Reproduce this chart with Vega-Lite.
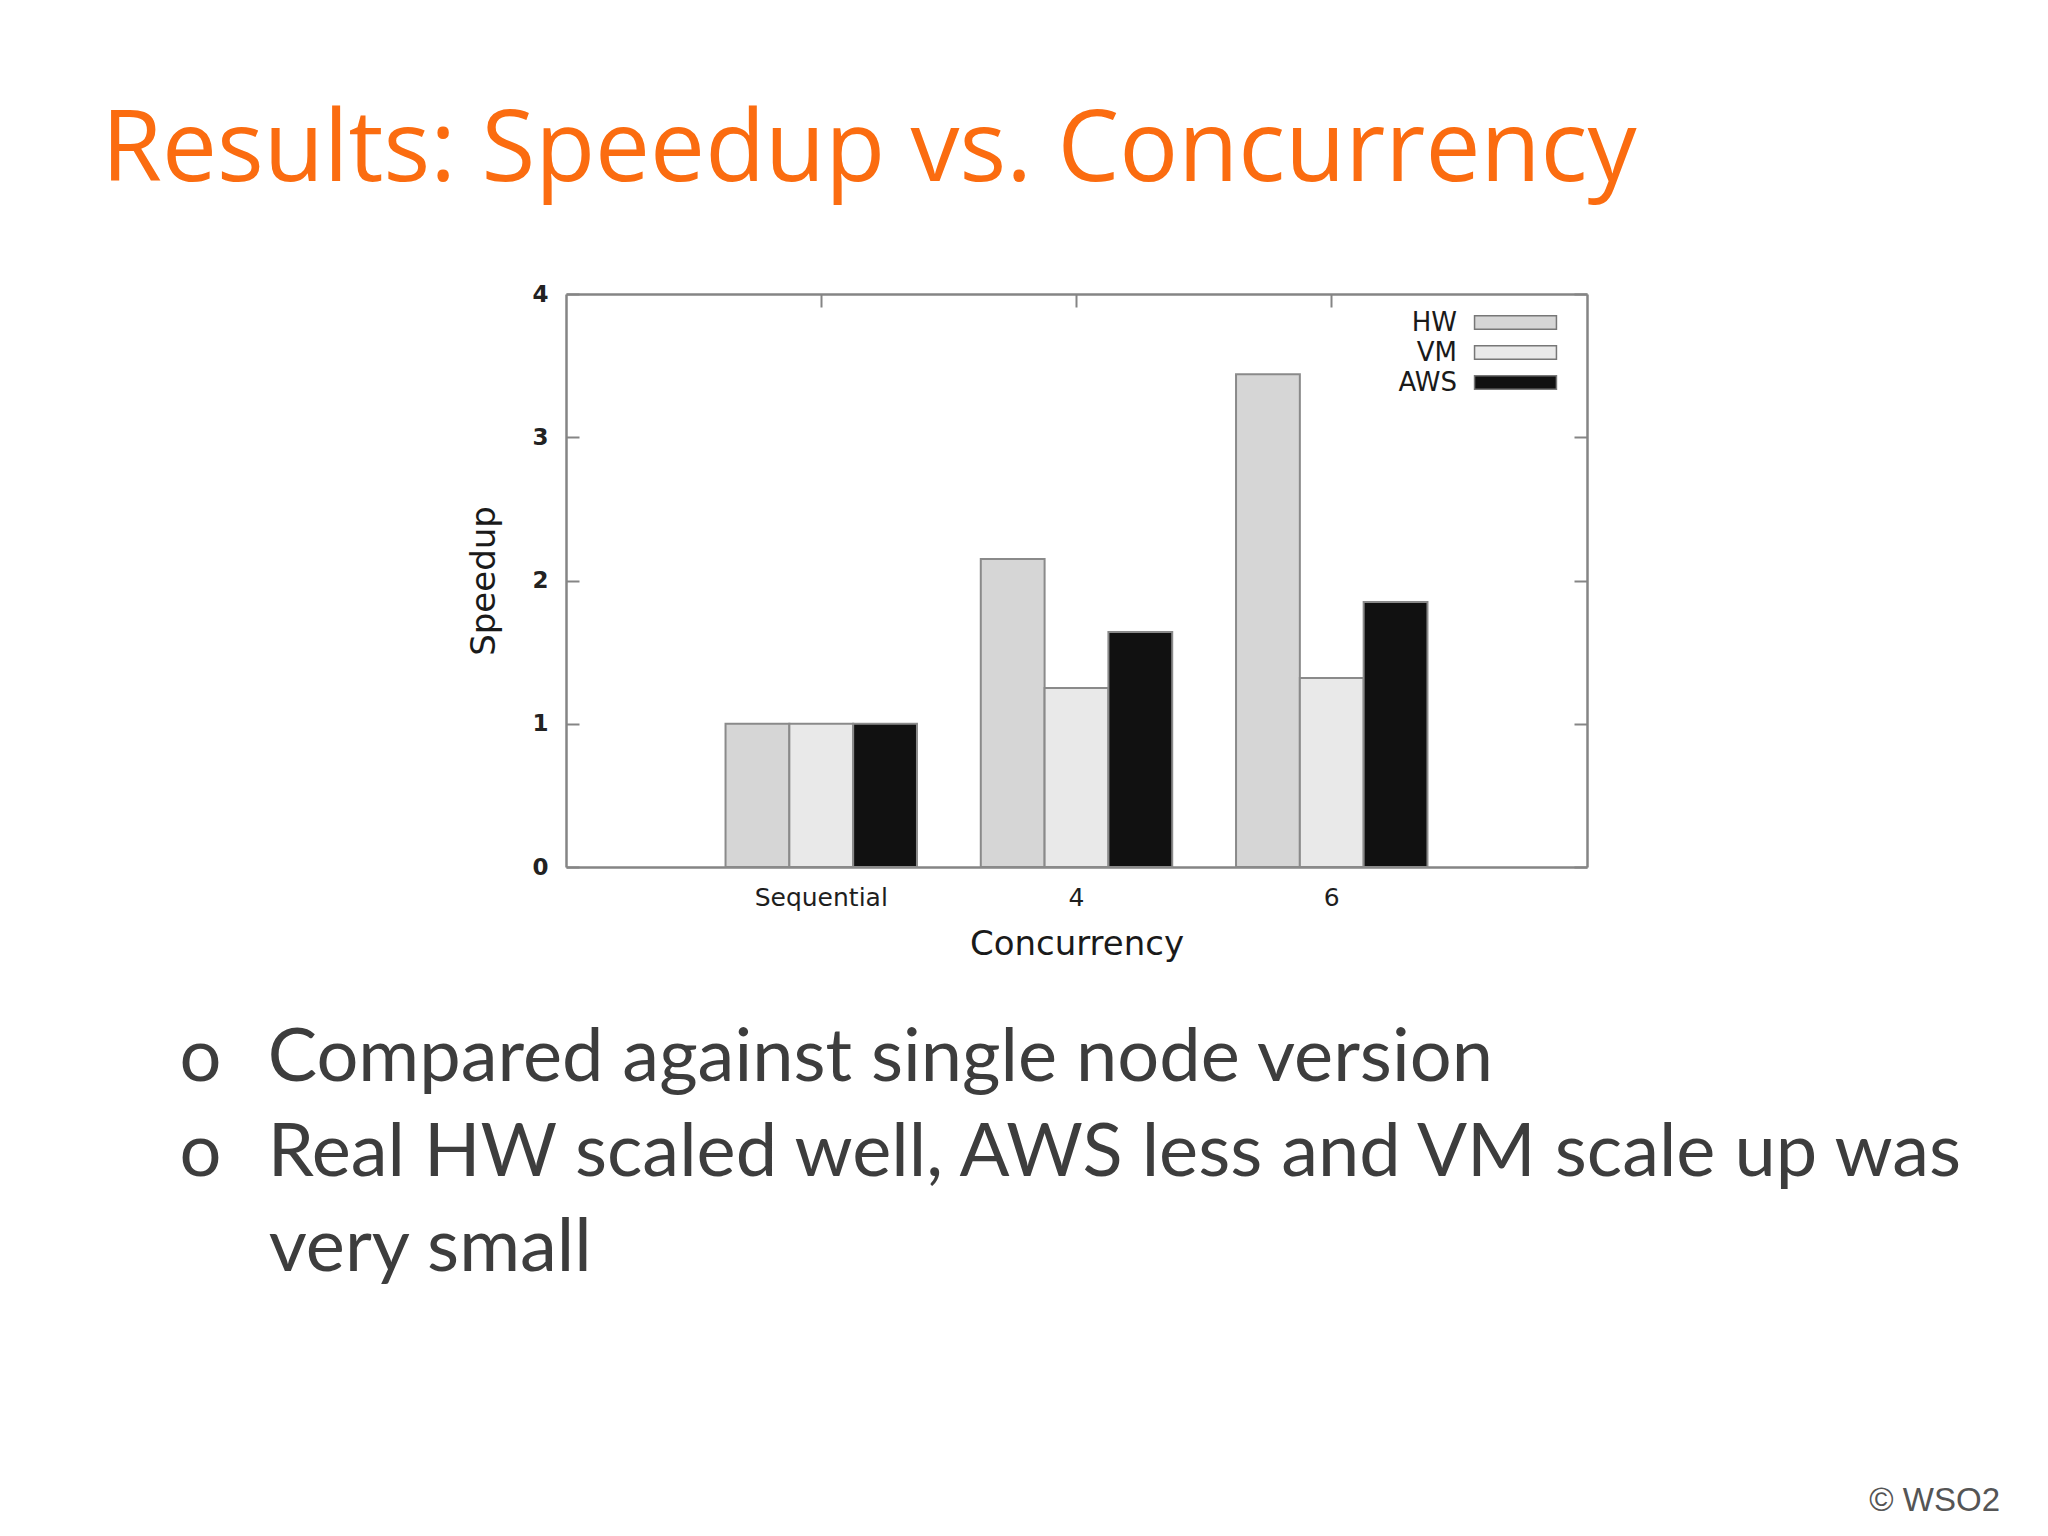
{
  "$schema": "https://vega.github.io/schema/vega-lite/v6.json",
  "width": 1021,
  "height": 573,
  "autosize": "none",
  "padding": {"left": 566, "top": 294, "right": 461, "bottom": 669},
  "background": "#ffffff",
  "title": {
    "text": "© WSO2",
    "orient": "bottom",
    "anchor": "end",
    "frame": "group",
    "dx": 413,
    "offset": 226,
    "baseline": "alphabetic",
    "font": "Liberation Sans",
    "fontSize": 33,
    "fontWeight": "normal",
    "color": "#555555"
  },
  "data": {
    "values": [
      {"conc": "Sequential", "system": "HW", "speedup": 1.0},
      {"conc": "Sequential", "system": "VM", "speedup": 1.0},
      {"conc": "Sequential", "system": "AWS", "speedup": 1.0},
      {"conc": "4", "system": "HW", "speedup": 2.15},
      {"conc": "4", "system": "VM", "speedup": 1.25},
      {"conc": "4", "system": "AWS", "speedup": 1.64},
      {"conc": "6", "system": "HW", "speedup": 3.44},
      {"conc": "6", "system": "VM", "speedup": 1.32},
      {"conc": "6", "system": "AWS", "speedup": 1.85}
    ]
  },
  "layer": [
    {
      "mark": {"type": "bar", "stroke": "#8a8a8a", "strokeWidth": 2},
      "encoding": {
        "x": {
          "field": "conc", "type": "nominal",
          "scale": {"domain": ["Sequential", "4", "6"], "paddingInner": 0, "paddingOuter": 0.5},
          "axis": {
            "orient": "bottom", "labelAngle": 0, "tickSize": -13, "labelPadding": 31,
            "labelFont": "DejaVu Sans", "labelFontSize": 25, "labelColor": "#1e1e1e",
            "title": "Concurrency", "titleFont": "DejaVu Sans", "titleFontSize": 34,
            "titleFontWeight": "normal", "titleColor": "#1a1a1a", "titlePadding": 17
          }
        },
        "xOffset": {
          "field": "system", "type": "nominal",
          "scale": {"domain": ["HW", "VM", "AWS"], "paddingInner": 0, "paddingOuter": 0.5}
        },
        "y": {
          "field": "speedup", "type": "quantitative",
          "scale": {"domain": [0, 4], "nice": false},
          "axis": {
            "orient": "left", "values": [0, 1, 2, 3, 4], "format": "d", "tickSize": -13,
            "labelPadding": 31, "labelFont": "DejaVu Sans", "labelFontSize": 23,
            "labelColor": "#222222", "labelFontWeight": "bold",
            "title": "Speedup", "titleFont": "DejaVu Sans", "titleFontSize": 34,
            "titleFontWeight": "normal", "titleColor": "#1a1a1a", "titlePadding": 30
          }
        },
        "color": {
          "field": "system", "type": "nominal",
          "scale": {"domain": ["HW", "VM", "AWS"], "range": ["#d6d6d6", "#e9e9e9", "#111111"]},
          "legend": {
            "orient": "none", "legendX": 936.5, "legendY": 15.5, "direction": "vertical",
            "title": null, "rowPadding": 4, "padding": 0,
            "symbolType": "M-6.3,-1.05H6.3V1.05H-6.3Z", "symbolSize": 169, "symbolOffset": 0,
            "symbolStrokeColor": "#777777", "symbolStrokeWidth": 1.5,
            "labelAlign": "right", "labelOffset": -71.5, "labelFont": "DejaVu Sans",
            "labelFontSize": 26, "labelColor": "#1a1a1a"
          }
        }
      }
    },
    {
      "mark": {"type": "bar", "opacity": 0},
      "encoding": {
        "x": {
          "field": "conc", "type": "nominal",
          "axis": {
            "orient": "top", "labels": false, "tickSize": -13,
            "title": "Results: Speedup vs. Concurrency", "titleX": -465, "titleY": -114,
            "titleAlign": "left", "titleAnchor": "start", "titleAngle": 0,
            "titleBaseline": "alphabetic", "titleFont": "Open Sans", "titleFontSize": 98,
            "titleFontWeight": "normal", "titleColor": "#fb6c10"
          }
        },
        "y": {
          "field": "speedup", "type": "quantitative",
          "axis": {
            "orient": "right", "labels": false, "values": [0, 1, 2, 3, 4], "tickSize": -13,
            "title": [
              "o\u2002\u2009Compared against single node version",
              "o\u2002\u2009Real HW scaled well, AWS less and VM scale up was",
              "\u200d\u2007\u2002\u2009very small"
            ],
            "titleX": -1408, "titleY": 786, "titleAngle": 0, "titleAlign": "left",
            "titleBaseline": "alphabetic", "titleFont": "Lato", "titleFontSize": 74,
            "titleFontWeight": "normal", "titleColor": "#3d3d3d", "titleLineHeight": 95
          }
        }
      }
    }
  ],
  "resolve": {"axis": {"x": "independent", "y": "independent"}},
  "config": {
    "view": {"stroke": null},
    "axis": {"grid": false, "domainColor": "#858585", "domainWidth": 2.5, "tickColor": "#858585", "tickWidth": 2}
  }
}
